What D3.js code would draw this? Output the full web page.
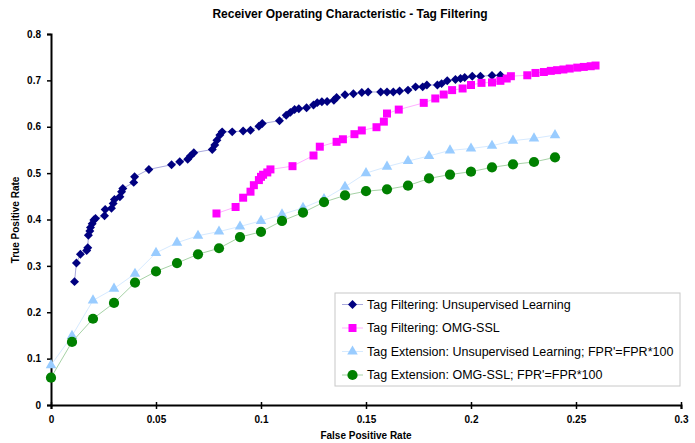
<!DOCTYPE html>
<html>
<head>
<meta charset="utf-8">
<script src="https://cdn.jsdelivr.net/npm/d3@7"></script>
<style>
  body { margin: 0; background: #fff; }
  text { font-family: "Liberation Sans", Arial, sans-serif; }
</style>
</head>
<body>
<svg id="chart"></svg>
<script>
// Tag Filtering: Unsupervised Learning (FPR, TPR)
var tfUnsupX = [0.0112, 0.0121, 0.014, 0.017, 0.0175, 0.0178, 0.0185, 0.0188, 0.0196, 0.0204, 0.0212, 0.0255, 0.0258,
    0.0288, 0.0296, 0.0302, 0.0328, 0.0336, 0.0342, 0.0394, 0.0398, 0.0466, 0.0574, 0.0613, 0.0651, 0.0664, 0.068,
    0.0768, 0.078, 0.079, 0.0804, 0.0815, 0.0863, 0.0915, 0.095, 0.099, 0.1006, 0.1088, 0.112, 0.114, 0.116, 0.118,
    0.1217, 0.125, 0.1268, 0.129, 0.1315, 0.1347, 0.136, 0.140, 0.144, 0.148, 0.151, 0.157, 0.16, 0.163, 0.166, 0.17,
    0.1736, 0.177, 0.179, 0.184, 0.186, 0.1887, 0.1926, 0.195, 0.197, 0.2006, 0.2045, 0.21, 0.214];
var tfUnsupY = [0.266, 0.306, 0.325, 0.333, 0.339, 0.366, 0.375, 0.383, 0.391, 0.399, 0.402, 0.408, 0.4215,
    0.424, 0.4345, 0.443, 0.449, 0.46, 0.467, 0.48, 0.492, 0.508, 0.518, 0.5245, 0.53, 0.537, 0.544,
    0.551, 0.5605, 0.571, 0.582, 0.589, 0.589, 0.591, 0.5925, 0.601, 0.607, 0.613, 0.625, 0.631, 0.637, 0.639,
    0.641, 0.647, 0.652, 0.654, 0.6545, 0.657, 0.663, 0.669, 0.671, 0.674, 0.675, 0.675, 0.675, 0.675, 0.677, 0.679,
    0.686, 0.686, 0.69, 0.69, 0.693, 0.699, 0.702, 0.704, 0.706, 0.709, 0.709, 0.7105, 0.711];

// Tag Filtering: OMG-SSL
var tfSslX = [0.0788, 0.0879, 0.0915, 0.095, 0.0966, 0.099, 0.1, 0.101, 0.103, 0.1045, 0.115, 0.125, 0.128, 0.136,
    0.139, 0.1445, 0.148, 0.155, 0.1585, 0.160, 0.1656, 0.1775, 0.183, 0.187, 0.191, 0.196, 0.200, 0.205, 0.21,
    0.214, 0.217, 0.219, 0.2268, 0.2307, 0.2347, 0.238, 0.241, 0.244, 0.247, 0.2506, 0.2537, 0.257, 0.2593];
var tfSslY = [0.413, 0.427, 0.447, 0.46, 0.474, 0.485, 0.492, 0.4965, 0.5015, 0.508, 0.515, 0.538, 0.557, 0.5675,
    0.573, 0.584, 0.592, 0.599, 0.611, 0.6285, 0.637, 0.6515, 0.661, 0.6695, 0.679, 0.6825, 0.69, 0.6946, 0.6955,
    0.699, 0.704, 0.709, 0.711, 0.716, 0.718, 0.7205, 0.722, 0.7235, 0.7255, 0.7275, 0.729, 0.7305, 0.732];

// Tag Extension series, FPR' = FPR*100
var teX = [0, 0.01, 0.02, 0.03, 0.04, 0.05, 0.06, 0.07, 0.08, 0.09, 0.1, 0.11, 0.12, 0.13, 0.14, 0.15, 0.16,
    0.17, 0.18, 0.19, 0.2, 0.21, 0.22, 0.23, 0.24];
var teUnsupY = [0.086, 0.149, 0.2255, 0.251, 0.283, 0.328, 0.35, 0.365, 0.374, 0.385, 0.397, 0.411, 0.425,
    0.444, 0.4705, 0.50, 0.514, 0.526, 0.537, 0.549, 0.553, 0.559, 0.57, 0.575, 0.582];
var teSslY = [0.059, 0.136, 0.186, 0.22, 0.264, 0.288, 0.306, 0.325, 0.338, 0.362, 0.3735, 0.397, 0.415,
    0.4375, 0.452, 0.461, 0.465, 0.473, 0.4885, 0.497, 0.503, 0.5125, 0.519, 0.524, 0.534];

var xTicks = [0, 0.05, 0.1, 0.15, 0.2, 0.25, 0.3];
var yTicks = [0, 0.1, 0.2, 0.3, 0.4, 0.5, 0.6, 0.7, 0.8];

var width = 695,
    height = 443,
    margin = {top: 34, right: 14, bottom: 38, left: 51};

var svg = d3.select("#chart")
    .attr("width", width)
    .attr("height", height);

var x = d3.scaleLinear().domain([0, 0.3]).range([margin.left, width - margin.right]);
var y = d3.scaleLinear().domain([0, 0.8]).range([height - margin.bottom, margin.top]);

function zip(xs, ys) {
    return xs.map(function(v, i) { return {x: v, y: ys[i]}; });
}

var series = [
    {name: "Tag Filtering: Unsupervised Learning", data: zip(tfUnsupX, tfUnsupY),
        color: "#000080", line: "#a8a8dc", shape: "diamond"},
    {name: "Tag Filtering: OMG-SSL", data: zip(tfSslX, tfSslY),
        color: "#ff00ff", line: "#ffb0ff", shape: "square"},
    {name: "Tag Extension: Unsupervised Learning; FPR'=FPR*100", data: zip(teX, teUnsupY),
        color: "#99ccff", line: "#d6eaff", shape: "triangle"},
    {name: "Tag Extension: OMG-SSL; FPR'=FPR*100", data: zip(teX, teSslY),
        color: "#008000", line: "#a6d2a6", shape: "circle"}
];

var symbols = {
    diamond: d3.symbol().type(d3.symbolSquare).size(40),
    square: d3.symbol().type(d3.symbolSquare).size(64),
    triangle: d3.symbol().type(d3.symbolTriangle).size(48),
    circle: d3.symbol().type(d3.symbolCircle).size(82)
};

function place(shape, px, py) {
    return "translate(" + px + "," + py + ")" + (shape === "diamond" ? " rotate(45)" : "");
}

// title
svg.append("text")
    .attr("x", 350)
    .attr("y", 18)
    .attr("text-anchor", "middle")
    .style("font-size", "12px")
    .style("font-weight", "bold")
    .text("Receiver Operating Characteristic - Tag Filtering");

// axes
var xAxis = svg.append("g")
    .attr("transform", "translate(0," + y(0) + ")")
    .call(d3.axisBottom(x).tickValues(xTicks).tickSize(4).tickPadding(7).tickFormat(d3.format("")));

var yAxis = svg.append("g")
    .attr("transform", "translate(" + x(0) + ",0)")
    .call(d3.axisLeft(y).tickValues(yTicks).tickSize(4).tickPadding(6).tickFormat(d3.format("")));

[xAxis, yAxis].forEach(function(ax) {
    ax.select(".domain").attr("stroke", "#000").attr("stroke-width", 2);
    ax.selectAll(".tick line").attr("stroke", "#000").attr("stroke-width", 1.5);
    ax.selectAll(".tick text")
        .style("font-family", "Liberation Sans, Arial, sans-serif")
        .style("font-size", "10px")
        .style("font-weight", "bold")
        .attr("fill", "#000");
});
xAxis.selectAll(".tick line").attr("y1", -3);

svg.append("text")
    .attr("x", 366)
    .attr("y", 439)
    .attr("text-anchor", "middle")
    .style("font-size", "10px")
    .style("font-weight", "bold")
    .text("False Positive Rate");

svg.append("text")
    .attr("transform", "translate(19,220) rotate(-90)")
    .attr("text-anchor", "middle")
    .style("font-size", "10px")
    .style("font-weight", "bold")
    .text("True Positive Rate");

// series
var line = d3.line().x(function(d) { return x(d.x); }).y(function(d) { return y(d.y); });

var groups = svg.append("g").selectAll("g")
    .data(series)
    .enter().append("g");

groups.append("path")
    .attr("d", function(s) { return line(s.data); })
    .attr("fill", "none")
    .attr("stroke", function(s) { return s.line; })
    .attr("stroke-width", 1);

groups.each(function(s) {
    d3.select(this).selectAll("path.mark")
        .data(s.data)
        .enter().append("path")
        .attr("class", "mark")
        .attr("d", symbols[s.shape])
        .attr("transform", function(d) { return place(s.shape, x(d.x), y(d.y)); })
        .attr("fill", s.color);
});

// legend
var legend = svg.append("g").attr("transform", "translate(335,293)");

legend.append("rect")
    .attr("width", 345)
    .attr("height", 93)
    .attr("fill", "#fff")
    .attr("stroke", "#c8c8c8")
    .attr("stroke-width", 1);

var item = legend.selectAll("g.item")
    .data(series)
    .enter().append("g")
    .attr("class", "item")
    .attr("transform", function(d, i) { return "translate(0," + (11.5 + i * 23.5) + ")"; });

item.append("line")
    .attr("x1", 7).attr("x2", 28)
    .attr("stroke", function(s) { return s.line; })
    .attr("stroke-width", 1);

item.append("path")
    .attr("d", function(s) { return symbols[s.shape](); })
    .attr("transform", function(s) { return place(s.shape, 17.5, 0); })
    .attr("fill", function(s) { return s.color; });

item.append("text")
    .attr("x", 32)
    .attr("dy", "0.35em")
    .style("font-size", "12.5px")
    .text(function(s) { return s.name; });
</script>
</body>
</html>
